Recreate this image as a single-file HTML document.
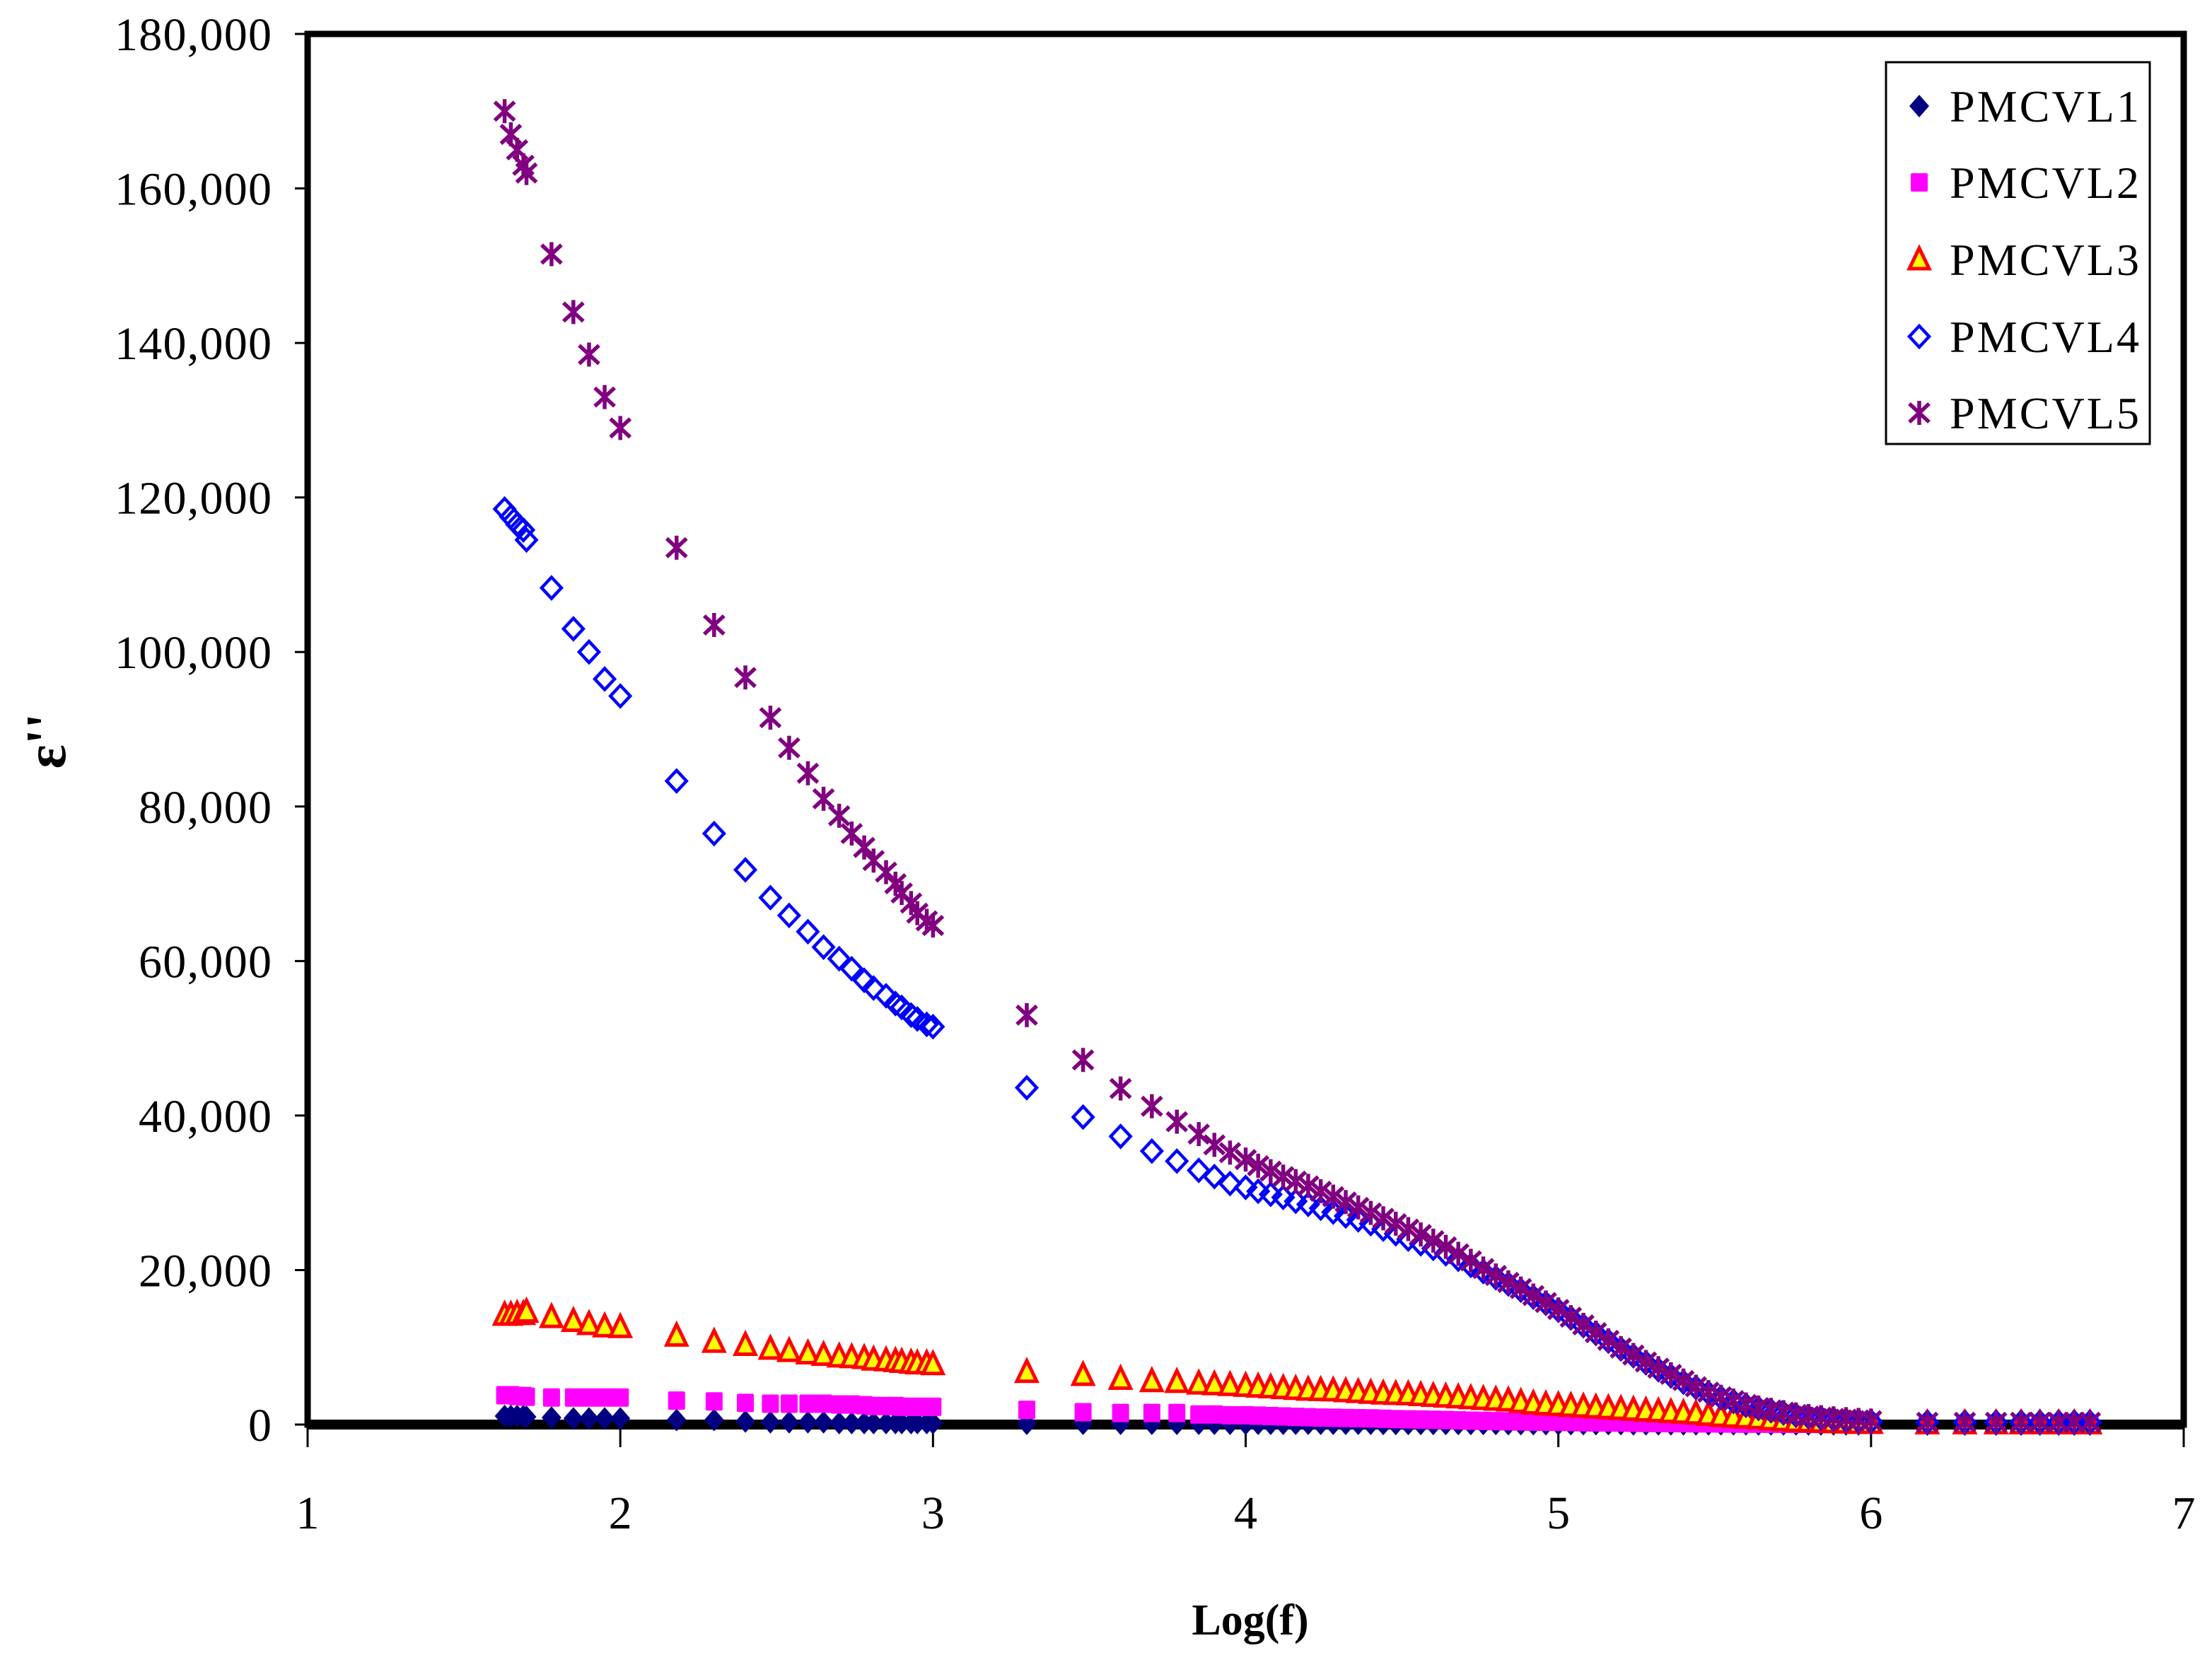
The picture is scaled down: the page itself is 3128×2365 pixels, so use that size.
<!DOCTYPE html>
<html><head><meta charset="utf-8"><style>
html,body{margin:0;padding:0;background:#fff}
svg text{font-family:"Liberation Serif",serif}
</style></head><body>
<svg id="chart" width="3128" height="2360" viewBox="0 0 3128 2360" xmlns="http://www.w3.org/2000/svg">
<rect x="0" y="0" width="3128" height="2360" fill="#fff"/>
<g id="axes"></g>
<g id="marks"></g>
<text x="0" y="0" transform="translate(92,1048) rotate(-90)" text-anchor="middle" font-size="80" font-weight="bold">ε''</text>
<text x="1768" y="2312" text-anchor="middle" font-size="62" font-weight="bold">Log(f)</text>
<g>
<rect x="2667" y="88" width="373" height="540" fill="#fff" stroke="#000" stroke-width="3"/>
<g id="legend-items"></g>
</g>
</svg>
<script>
const xTicks = [1,2,3,4,5,6,7];
const yTicks = [0,20,40,60,80,100,120,140,160,180];
const yTickLabels = ["0","20,000","40,000","60,000","80,000","100,000","120,000","140,000","160,000","180,000"];
const seriesNames = ["PMCVL1","PMCVL2","PMCVL3","PMCVL4","PMCVL5"];

const xLow = [1.63,1.65,1.67,1.69,1.70,1.78,1.85,1.90,1.95,2.00,2.18,2.30,2.40,2.48,2.54,2.60,2.65,2.70,2.74,2.78,2.81,2.85,2.88,2.90,2.93,2.95,2.98,3.00,3.30,3.48,3.60,3.70,3.78,3.85,3.90,3.95,4.00];
const xDense = [4.04,4.08,4.12,4.16,4.20,4.24,4.28,4.32,4.36,4.40,4.44,4.48,4.52,4.56,4.60,4.64,4.68,4.72,4.76,4.80,4.84,4.88,4.92,4.96,5.00,5.04,5.08,5.12,5.16,5.20,5.24,5.28,5.32,5.36,5.40,5.44,5.48,5.52,5.56,5.60,5.64,5.68,5.72,5.76,5.80,5.84,5.88,5.92,5.96,6.00];
const xHigh = [6.18,6.30,6.40,6.48,6.54,6.60,6.65,6.70];

// values in thousands
const p1Values = [1.1,1.1,1.1,1.1,1.0,0.9,0.8,0.8,0.8,0.8,0.6,0.6,0.4,0.3,0.3,0.3,0.3,0.2,0.2,0.2,0.2,0.2,0.2,0.2,0.2,0.2,0.2,0.2,0.1,0.1,0.1,0.1,0.1,0.1,0.1,0.1,0.1,
 0.1,0.1,0.1,0.1,0.1,0.1,0.1,0.1,0.1,0.1,0.08,0.08,0.08,0.08,0.08,0.08,0.08,0.08,0.08,0.08,0.06,0.06,0.06,0.06,0.06,0.06,0.06,0.06,0.06,0.06,0.04,0.04,0.04,0.04,0.04,0.04,0.04,0.04,0.04,0.04,0.02,0.02,0.02,0.02,0.02,0.02,0.02,0.02,0.02,0.02,
 0,0,0,0,0,0,0,0];
const p2Values = [3.8,3.8,3.7,3.7,3.6,3.5,3.5,3.5,3.5,3.5,3.1,3.0,2.8,2.7,2.7,2.7,2.7,2.6,2.6,2.5,2.4,2.4,2.4,2.3,2.3,2.3,2.3,2.3,1.9,1.6,1.5,1.5,1.5,1.3,1.3,1.2,1.2,
 1.15,1.1,1.05,1.0,0.95,0.9,0.88,0.85,0.82,0.8,0.75,0.7,0.68,0.65,0.62,0.6,0.55,0.5,0.48,0.45,0.42,0.4,0.38,0.36,0.35,0.33,0.3,0.28,0.26,0.25,0.23,0.21,0.2,0.18,0.17,0.16,0.15,0.14,0.13,0.12,0.11,0.1,0.1,0.09,0.09,0.08,0.08,0.07,0.07,0.07,
 0.1,0.1,0.1,0.1,0.1,0.1,0.1,0.1];
const p3Values = [14.2,14.2,14.3,14.3,14.6,13.9,13.4,13.0,12.7,12.6,11.5,10.7,10.3,9.8,9.5,9.2,9.0,8.8,8.7,8.6,8.4,8.3,8.2,8.1,8.0,7.9,7.9,7.8,6.8,6.4,5.9,5.6,5.5,5.3,5.2,5.1,5.0,
 4.9,4.8,4.7,4.6,4.5,4.45,4.4,4.3,4.2,4.1,4.0,3.95,3.9,3.8,3.7,3.6,3.5,3.4,3.3,3.2,3.1,2.9,2.7,2.6,2.5,2.4,2.3,2.2,2.1,2.0,1.9,1.8,1.7,1.6,1.5,1.4,1.25,1.1,1.0,0.9,0.8,0.65,0.55,0.45,0.4,0.35,0.3,0.25,0.2,0.2,
 0.15,0.15,0.15,0.15,0.15,0.15,0.15,0.15];
const p4Values = [118.5,117.5,116.5,115.8,114.5,108.3,103,100,96.5,94.3,83.3,76.5,71.8,68.2,65.9,63.8,61.8,60.3,59,57.5,56.5,55.5,54.5,54,53,52.5,51.8,51.5,43.6,39.8,37.3,35.4,34.1,32.9,32.1,31.2,30.7,
 30.2,29.8,29.4,28.9,28.5,28.0,27.5,27.0,26.5,26.0,25.3,24.7,24.0,23.4,22.8,22.1,21.4,20.6,19.8,19.0,18.2,17.4,16.5,15.7,14.8,13.8,12.8,11.8,10.8,9.8,8.9,8.0,7.1,6.3,5.5,4.8,4.1,3.5,3.0,2.5,2.1,1.8,1.5,1.2,1.0,0.85,0.7,0.55,0.45,0.4,
 0.3,0.3,0.3,0.3,0.3,0.3,0.3,0.3];
const p5Values = [170,167,165,163,162,151.5,144,138.5,133,129,113.5,103.5,96.7,91.5,87.6,84.3,81,78.8,76.5,74.7,73,71.5,70,68.8,67.5,66.2,65.2,64.6,53,47.2,43.5,41.2,39.2,37.6,36.2,35.2,34.3,
 33.5,32.8,32.1,31.5,30.9,30.2,29.5,28.8,28.1,27.4,26.7,26.0,25.3,24.6,23.8,23.0,22.1,21.2,20.2,19.3,18.4,17.6,16.7,15.8,14.9,13.9,12.9,11.9,10.9,9.9,9.0,8.1,7.3,6.5,5.7,4.9,4.2,3.6,3.1,2.6,2.2,1.9,1.6,1.3,1.1,0.95,0.8,0.7,0.6,0.5,
 0.3,0.3,0.3,0.3,0.3,0.3,0.3,0.3];

const xVals = xLow.concat(xDense, xHigh);
const NS = "http://www.w3.org/2000/svg";
const L = 435, R = 3088, T = 48, B = 2015;
const xs = v => L + (v - 1) / 6 * (R - L);
const ys = v => B - v / 180 * (B - T);

function mk(tag, attrs, parent) {
  const e = document.createElementNS(NS, tag);
  for (const k in attrs) e.setAttribute(k, attrs[k]);
  parent.appendChild(e);
  return e;
}
const axes = document.getElementById('axes');
const marks = document.getElementById('marks');

let frame = mk('rect', {x: L, y: T, width: R - L, height: B - T, fill: 'none', stroke: '#000', 'stroke-width': 9}, axes);


let xline = mk('line', {x1: L, y1: B, x2: R, y2: B, stroke: '#000', 'stroke-width': 14}, axes);



yTicks.forEach((t, i) => {
  const y = ys(t);
  const tk = mk('line', {x1: L - 18, y1: y, x2: L, y2: y, stroke: '#000', 'stroke-width': 3}, axes);
  
  
  const tx = mk('text', {x: 384, y: y + 23, 'text-anchor': 'end', 'font-size': 66, 'textLength': yTickLabels[i].length > 1 ? (yTickLabels[i].length === 7 ? 222 : 188) : null}, axes);
  if (yTickLabels[i].length === 1) tx.removeAttribute('textLength');
  tx.textContent = yTickLabels[i];
  
  
});
xTicks.forEach(t => {
  const x = xs(t);
  const tk = mk('line', {x1: x, y1: B, x2: x, y2: B + 32, stroke: '#000', 'stroke-width': 3}, axes);
  
  
  const tx = mk('text', {x: x, y: 2162, 'text-anchor': 'middle', 'font-size': 66}, axes);
  tx.textContent = String(t);
  
  
});

function marker(kind, cx, cy, parent) {
  let e;
  if (kind === 0) {
    e = mk('polygon', {points: `${cx},${cy-16} ${cx+14},${cy} ${cx},${cy+16} ${cx-14},${cy}`, fill: '#000080'}, parent);
  } else if (kind === 1) {
    e = mk('rect', {x: cx - 12, y: cy - 13, width: 24, height: 26, rx: 2, fill: '#ff00ff'}, parent);
  } else if (kind === 2) {
    e = mk('polygon', {points: `${cx},${cy-16} ${cx+14},${cy+13} ${cx-14},${cy+13}`, fill: '#ffff00', stroke: '#ff0000', 'stroke-width': 5, 'stroke-linejoin': 'miter'}, parent);
  } else if (kind === 3) {
    e = mk('polygon', {points: `${cx},${cy-15} ${cx+14},${cy} ${cx},${cy+15} ${cx-14},${cy}`, fill: 'none', stroke: '#0000ff', 'stroke-width': 4.5}, parent);
  } else {
    e = mk('path', {d: `M${cx},${cy-17}V${cy+17}M${cx-14},${cy-13}L${cx+14},${cy+13}M${cx-14},${cy+13}L${cx+14},${cy-13}`, fill: 'none', stroke: '#800080', 'stroke-width': 5.5}, parent);
  }
  return e;
}

const allSeries = [p1Values, p2Values, p3Values, p4Values, p5Values];
allSeries.forEach((vals, si) => {
  const g = mk('g', {}, marks);
  
  
  vals.forEach((v, i) => {
    const m = marker(si, xs(xVals[i]), ys(v), g);
    
    
  });
});

const legendItems = document.getElementById('legend-items');
const legendY = [150, 258, 367, 476, 584];
seriesNames.forEach((n, i) => {
  const g = mk('g', {}, legendItems);
  
  
  marker(i, 2714, legendY[i], g);
  const t = mk('text', {x: 2757, y: legendY[i] + 22, 'font-size': 64, textLength: 268}, g);
  t.textContent = n;
});
</script>
</body></html>
